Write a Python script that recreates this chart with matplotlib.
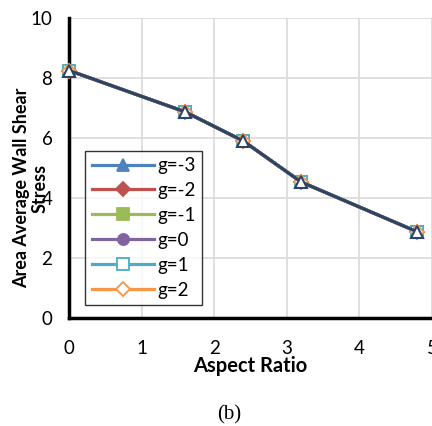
import matplotlib
matplotlib.use("Agg")
import matplotlib.pyplot as plt

aspect_ratio = [0, 1.6, 2.4, 3.2, 4.8]
wss = [8.25, 6.87, 5.9, 4.53, 2.87]
series_labels = ["g=-3", "g=-2", "g=-1", "g=0", "g=1", "g=2"]
series_values = [wss, wss, wss, wss, wss, wss]
x_ticks = [0, 1, 2, 3, 4, 5]
y_ticks = [0, 2, 4, 6, 8, 10]

colors = ["#4F81BD", "#C0504D", "#9BBB59", "#8064A2", "#4BACC6", "#F79646"]
markers = ["^", "D", "s", "o", "s", "D"]
fills = [True, True, True, True, False, False]

plt.rcParams['font.family'] = ['Lato', 'DejaVu Sans']

fig = plt.figure(figsize=(4.32, 4.26), dpi=100)
ax = fig.add_axes([0.160, 0.2535, 0.840, 0.7042])

for lab, vals, c, m, f in zip(series_labels, series_values, colors, markers, fills):
    ax.plot(aspect_ratio, vals, color=c, lw=2.3, marker=m, ms=8 if m != "D" else 7,
            markerfacecolor=c if f else "white", markeredgecolor=c, markeredgewidth=1.3,
            label=lab, clip_on=False, zorder=3)

# top overlaid series (dark)
ax.plot(aspect_ratio, wss, color="#2B4468", lw=2.3, marker="^", ms=8,
        markerfacecolor="white", markeredgecolor="#2B4468", markeredgewidth=1.5,
        clip_on=False, zorder=4)

ax.set_xlim(0, 5)
ax.set_ylim(0, 10)
ax.set_xticks(x_ticks)
ax.set_yticks(y_ticks)
ax.grid(True, color="#D9D9D9", lw=1.2)
ax.set_axisbelow(True)
for s in ["top", "right"]:
    ax.spines[s].set_visible(False)
for s in ["left", "bottom"]:
    ax.spines[s].set_linewidth(2.5)
    ax.spines[s].set_color("black")
ax.tick_params(length=0, labelsize=13.5)
ax.tick_params(axis="x", pad=16)
ax.tick_params(axis="y", pad=12)

ax.set_xlabel("Aspect Ratio", fontsize=14.5, fontweight="bold")
ax.xaxis.set_label_coords(0.5, -0.125)
ax.set_ylabel("Area Average Wall Shear\nStress", fontsize=13, fontweight="bold",
              linespacing=1.1)
ax.yaxis.set_label_coords(-0.058, 0.433)

leg = ax.legend(loc="lower left", bbox_to_anchor=(0.044, 0.043), borderaxespad=0,
                fontsize=13.5, frameon=True, fancybox=False, edgecolor="black",
                handlelength=3.3, handletextpad=0.2, labelspacing=0.42,
                borderpad=0.35)
leg.get_frame().set_linewidth(1.0)
leg.set_zorder(5)

fig.text(0.530, 0.026, "(b)", fontsize=15, family="Liberation Serif",
         ha="center", va="center")

fig.savefig("out.png", dpi=100)
